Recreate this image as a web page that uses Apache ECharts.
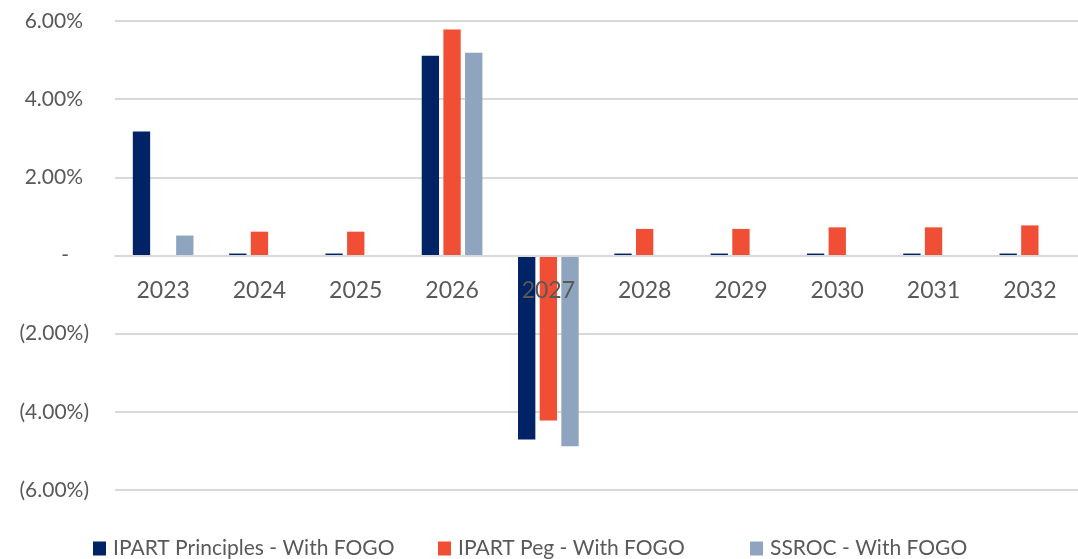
<!DOCTYPE html>
<html>
<head>
<meta charset="utf-8">
<script src="https://cdn.jsdelivr.net/npm/echarts@6/dist/echarts.min.js"></script>
<style>
  html, body { margin: 0; padding: 0; background: #fff; }
  #chart { width: 1078px; height: 559px; }
</style>
</head>
<body>
<div id="chart"></div>
<script>
// data (percent)
const years = ['2023', '2024', '2025', '2026', '2027', '2028', '2029', '2030', '2031', '2032'];
const ipartPrinciples = [3.17, 0.05, 0.05, 5.11, -4.71, 0.05, 0.05, 0.05, 0.05, 0.05];
const ipartPeg = [0, 0.61, 0.61, 5.78, -4.22, 0.68, 0.68, 0.72, 0.72, 0.77];
const ssroc = [0.51, 0, 0, 5.19, -4.88, 0, 0, 0, 0, 0];
const seriesNames = ['IPART Principles - With FOGO', 'IPART Peg - With FOGO', 'SSROC - With FOGO'];

const font = 'Lato';
const textColor = '#595959';
const gridTop = 21, gridBottom = 69, chartH = 559;

const chart = echarts.init(document.getElementById('chart'));

// accounting style labels: 6.00%, -, (2.00%)
const fmtY = (v) => {
  if (Math.abs(v) < 1e-9) return '{z|-}';
  if (v > 0) return '{p|' + v.toFixed(2) + '%}';
  return '{n|(' + Math.abs(v).toFixed(2) + '%)}';
};

// one legend per item so each sits where it does in the original
const legendLeft = [93, 438, 750];
const legends = seriesNames.map((n, i) => ({
  top: 538,
  left: legendLeft[i],
  padding: 0,
  icon: 'rect',
  itemWidth: 13,
  itemHeight: 14,
  textStyle: { fontSize: 21, color: textColor, fontFamily: font, padding: [0, 0, 0, 2] },
  data: [n]
}));

// category axis sits on the zero line (y range is symmetric)
const plotH = chartH - gridTop - gridBottom;

const option = {
  animation: false,
  textStyle: { fontFamily: font },
  color: ['#002366', '#F04E35', '#8EA4BF'],
  grid: { left: 115, right: 0, top: gridTop, bottom: gridBottom },
  legend: legends,
  xAxis: {
    type: 'category',
    data: years,
    zlevel: 1,
    position: 'bottom',
    offset: -plotH / 2,
    axisLine: { onZero: false, lineStyle: { color: '#D9D9D9', width: 2 } },
    axisTick: { show: false },
    axisLabel: { fontSize: 23, color: textColor, margin: 24, fontFamily: font }
  },
  yAxis: {
    type: 'value',
    min: -6,
    max: 6,
    interval: 2,
    axisLine: { show: false },
    axisTick: { show: false },
    splitLine: { lineStyle: { color: '#D9D9D9', width: 2 } },
    axisLabel: {
      margin: 26,
      formatter: fmtY,
      rich: {
        p: { fontSize: 21, color: textColor, fontFamily: font, padding: [0, 6, 0, 0] },
        n: { fontSize: 21, color: textColor, fontFamily: font },
        z: { fontSize: 21, color: textColor, fontFamily: font, padding: [0, 20, 0, 0] }
      }
    }
  },
  series: [
    { name: seriesNames[0], type: 'bar', data: ipartPrinciples, barGap: '25%', barCategoryGap: '37%' },
    { name: seriesNames[1], type: 'bar', data: ipartPeg, barGap: '25%', barCategoryGap: '37%' },
    { name: seriesNames[2], type: 'bar', data: ssroc, barGap: '25%', barCategoryGap: '37%' }
  ]
};

chart.setOption(option);
</script>
</body>
</html>
